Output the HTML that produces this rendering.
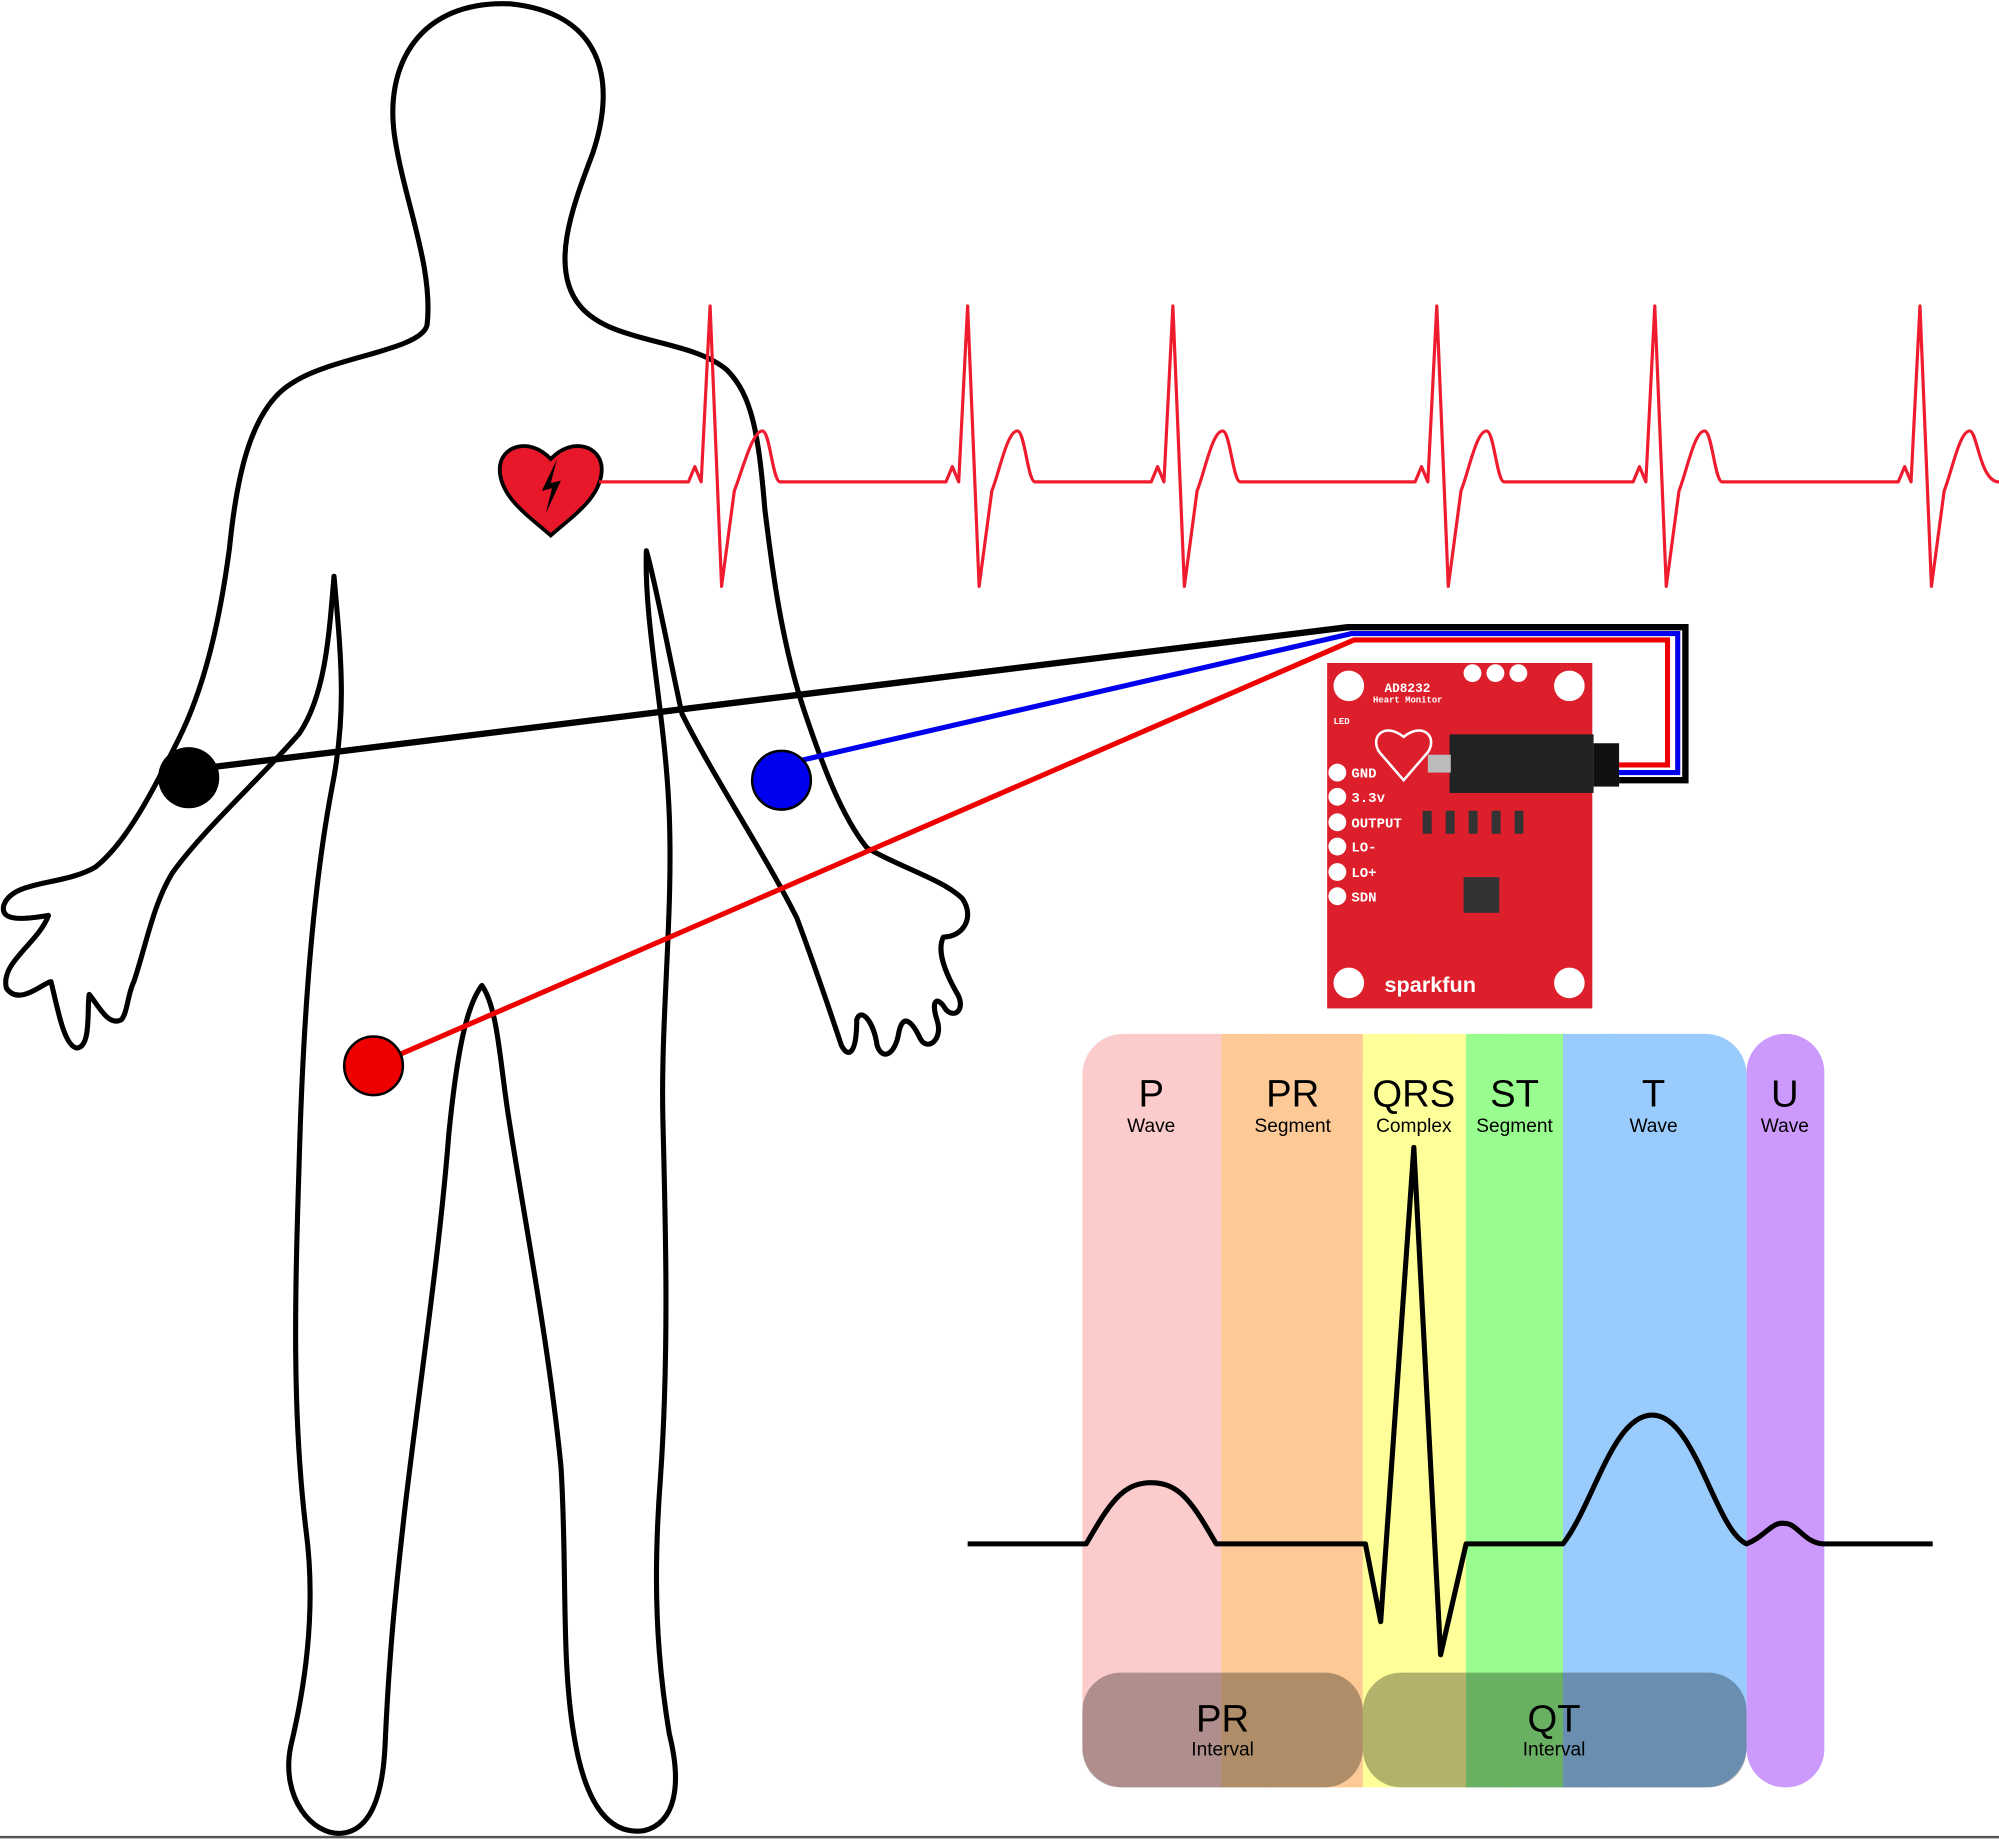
<!DOCTYPE html>
<html><head><meta charset="utf-8"><style>html,body{margin:0;padding:0;background:#fff}svg{display:block}</style></head>
<body>
<svg width="1999" height="1839" viewBox="0 0 1568 1442.5" preserveAspectRatio="none" xmlns="http://www.w3.org/2000/svg" font-family="Liberation Sans, sans-serif">
<rect width="1568" height="1442.5" fill="#fff"/>
<!-- ECG bands -->
<rect x="849" y="811" width="140" height="591" rx="32" fill="#fccccc"/>
<rect x="958" y="811" width="140" height="591" rx="32" fill="#fdca97"/>
<rect x="1069" y="811" width="110" height="591" rx="32" fill="#ffff99"/>
<rect x="1150" y="811" width="110" height="591" rx="32" fill="#99fc8f"/>
<rect x="1226" y="811" width="144" height="591" rx="32" fill="#99ccfd"/>
<rect x="1370" y="811" width="61" height="591" rx="30" fill="#cc99fc"/>
<rect x="958" y="811" width="40" height="591" fill="#fdca97"/>
<rect x="1069" y="811" width="40" height="591" fill="#ffff99"/>
<rect x="1150" y="811" width="40" height="591" fill="#99fc8f"/>
<rect x="1226" y="811" width="40" height="591" fill="#99ccfd"/>
<rect x="849" y="1312" width="220" height="90" rx="30" fill="#000" opacity="0.3"/>
<rect x="1069" y="1312" width="301" height="90" rx="30" fill="#000" opacity="0.3"/>
<g text-anchor="middle" fill="#000">
<text x="903" y="868" font-size="30">P</text><text x="903" y="888" font-size="15">Wave</text>
<text x="1014" y="868" font-size="30">PR</text><text x="1014" y="888" font-size="15">Segment</text>
<text x="1109" y="868" font-size="30">QRS</text><text x="1109" y="888" font-size="15">Complex</text>
<text x="1188" y="868" font-size="30">ST</text><text x="1188" y="888" font-size="15">Segment</text>
<text x="1297" y="868" font-size="30">T</text><text x="1297" y="888" font-size="15">Wave</text>
<text x="1400" y="868" font-size="30">U</text><text x="1400" y="888" font-size="15">Wave</text>
<text x="959" y="1358" font-size="30">PR</text><text x="959" y="1377" font-size="15">Interval</text>
<text x="1219" y="1358" font-size="30">QT</text><text x="1219" y="1377" font-size="15">Interval</text>
</g>
<path d="M759 1211 L852 1211 C870 1180 880 1163 903 1163 C926 1163 936 1180 954 1211 L1071 1211 L1083 1272 L1109 900 L1130 1298 L1150 1211 L1226 1211 C1250 1180 1265 1110 1296 1110 C1330 1110 1345 1200 1370 1211 C1385 1205 1390 1193 1400 1195 C1410 1195 1415 1210 1430 1211 L1516 1211" fill="none" stroke="#000" stroke-width="4" stroke-linejoin="round"/>
<!-- body -->
<path d="M262 452 C268 520 272 560 260 620 C245 700 238 800 235 900 C232 1000 228 1100 240 1200 C248 1260 240 1320 228 1370 C220 1410 245 1440 268 1438 C290 1436 300 1410 302 1370 C305 1300 310 1250 318 1180 C330 1080 345 980 352 890 C358 830 365 790 378 773 C390 790 392 830 398 870 C410 950 430 1050 440 1150 C445 1230 440 1300 450 1360 C458 1410 475 1440 505 1436 C530 1430 535 1400 525 1360 C515 1300 512 1240 518 1160 C525 1060 522 960 520 880 C518 800 528 720 525 640 C522 560 505 490 507 432 C515 460 528 530 535 560 C560 610 600 670 625 720 C640 760 650 790 660 820 C665 830 672 828 672 800 C675 790 685 800 688 820 C692 832 702 828 705 810 C708 795 715 800 722 815 C728 825 740 815 735 800 C730 785 735 780 742 792 C750 800 758 790 750 778 C740 760 735 745 740 735 C755 735 765 720 755 705 C740 690 705 680 680 665 C660 640 645 600 630 555 C612 500 605 440 600 400 C595 340 590 310 570 290 C540 265 480 270 455 240 C430 210 450 160 465 120 C485 60 470 10 400 3 C330 0 300 50 310 110 C318 160 340 210 335 255 C330 275 260 280 230 300 C195 320 185 380 180 430 C172 490 160 540 140 580 C120 620 100 660 75 680 C50 695 10 690 3 710 C0 722 15 722 38 718 C30 740 0 755 5 775 C15 790 35 770 40 770 C45 790 50 820 60 822 C72 822 68 790 70 780 C78 790 85 805 95 800 C100 795 100 780 105 770 C115 740 120 710 135 685 C160 650 205 610 235 575 C255 545 258 500 262 452 Z" fill="none" stroke="#000" stroke-width="4" stroke-linejoin="round"/>
<!-- heart -->
<path d="M432 420 C415 405 392 390 392 368 C392 350 415 342 432 360 C449 342 472 350 472 368 C472 390 449 405 432 420 Z" fill="#e8182a" stroke="#000" stroke-width="3"/>
<path d="M437 360 L425 385 L433 383 L428 403 L440 377 L432 379 Z" fill="#000"/>
<!-- red trace -->
<path d="M470 378 L540 378 L545 366 L550 378 L557 240 L566 460 L576 385 C582 370 590 338 598 338 C604 338 606 378 612 378 L742 378 L747 366 L752 378 L759 240 L768 460 L778 385 C784 370 790 338 798 338 C804 338 806 378 812 378 L903 378 L908 366 L913 378 L920 240 L929 460 L939 385 C945 370 951 338 959 338 C965 338 967 378 973 378 L1110 378 L1115 366 L1120 378 L1127 240 L1136 460 L1146 385 C1152 370 1158 338 1166 338 C1172 338 1174 378 1180 378 L1281 378 L1286 366 L1291 378 L1298 240 L1307 460 L1317 385 C1323 370 1329 338 1337 338 C1343 338 1345 378 1351 378 L1489 378 L1494 366 L1499 378 L1506 240 L1515 460 L1525 385 C1531 370 1537 338 1545 338 C1551 338 1553 378 1568 378" fill="none" stroke="#ee1c2e" stroke-width="2.5" stroke-linejoin="round"/>
<!-- board -->
<rect x="1041" y="520" width="208" height="271" fill="#dc1f2b"/>
<g fill="#fff">
<circle cx="1058" cy="538" r="12"/><circle cx="1231" cy="538" r="12"/><circle cx="1058" cy="771" r="12"/><circle cx="1231" cy="771" r="12"/>
<circle cx="1049" cy="606" r="7"/><circle cx="1049" cy="625" r="7"/><circle cx="1049" cy="645" r="7"/><circle cx="1049" cy="664" r="7"/><circle cx="1049" cy="684" r="7"/><circle cx="1049" cy="703" r="7"/>
<circle cx="1155" cy="528" r="7"/><circle cx="1173" cy="528" r="7"/><circle cx="1191" cy="528" r="7"/>
</g>
<g fill="#fff" font-family="Liberation Mono, monospace" font-weight="bold">
<text x="1086" y="543" font-size="10">AD8232</text><text x="1077" y="551" font-size="7">Heart Monitor</text>
<text x="1060" y="610" font-size="11">GND</text><text x="1060" y="629" font-size="11">3.3v</text><text x="1060" y="649" font-size="11">OUTPUT</text><text x="1060" y="668" font-size="11">LO-</text><text x="1060" y="688" font-size="11">LO+</text><text x="1060" y="707" font-size="11">SDN</text>
<text x="1046" y="568" font-size="7">LED</text>
</g>
<text x="1086" y="778" fill="#fff" font-size="17" font-weight="bold">sparkfun</text>
<path d="M1101 612 L1082 590 C1074 578 1086 566 1101 578 C1116 566 1128 578 1120 590 Z" fill="none" stroke="#fff" stroke-width="2"/>
<rect x="1137" y="576" width="113" height="46" fill="#222"/>
<rect x="1250" y="583" width="20" height="34" fill="#111"/>
<rect x="1120" y="592" width="18" height="14" fill="#bbb"/>
<g fill="#333"><rect x="1116" y="636" width="7" height="18"/><rect x="1134" y="636" width="7" height="18"/><rect x="1152" y="636" width="7" height="18"/><rect x="1170" y="636" width="7" height="18"/><rect x="1188" y="636" width="7" height="18"/><rect x="1148" y="688" width="28" height="28"/></g>
<!-- wires -->
<path d="M148 604 L1057 492 L1322 492 L1322 612 L1270 612" fill="none" stroke="#000" stroke-width="5"/>
<path d="M613 600 L1060 497 L1316 497 L1316 606 L1270 606" fill="none" stroke="#0000ee" stroke-width="4"/>
<path d="M293 836 L1062 502 L1308 502 L1308 600 L1270 600" fill="none" stroke="#ee0000" stroke-width="4"/>
<circle cx="148" cy="610" r="24" fill="#000"/>
<circle cx="613" cy="612" r="23" fill="#0000ee" stroke="#000" stroke-width="2"/>
<circle cx="293" cy="836" r="23" fill="#ee0000" stroke="#000" stroke-width="2"/>
<line x1="0" y1="1441" x2="1568" y2="1441" stroke="#555" stroke-width="2"/>
</svg>
</body></html>
